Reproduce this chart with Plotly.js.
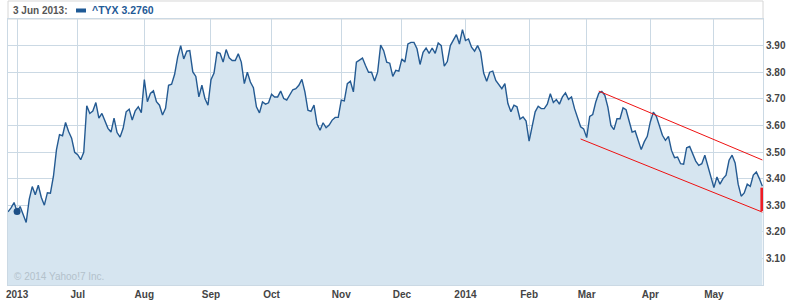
<!DOCTYPE html>
<html>
<head>
<meta charset="utf-8">
<script src="https://cdn.plot.ly/plotly-3.0.1.min.js"></script>
<style>
html,body{margin:0;padding:0;background:#fff;}
#chart{width:796px;height:302px;}
</style>
</head>
<body>
<div id="chart"></div>
<script>
// Trading days shown (category axis: one slot per trading day)
const dates = [
 '2013-05-29','2013-05-30','2013-05-31',
 '2013-06-03','2013-06-04','2013-06-05','2013-06-06','2013-06-07','2013-06-10','2013-06-11','2013-06-12','2013-06-13','2013-06-14','2013-06-17','2013-06-18','2013-06-19','2013-06-20','2013-06-21','2013-06-24','2013-06-25','2013-06-26','2013-06-27','2013-06-28',
 '2013-07-01','2013-07-02','2013-07-03','2013-07-05','2013-07-08','2013-07-09','2013-07-10','2013-07-11','2013-07-12','2013-07-15','2013-07-16','2013-07-17','2013-07-18','2013-07-19','2013-07-22','2013-07-23','2013-07-24','2013-07-25','2013-07-26','2013-07-29','2013-07-30','2013-07-31',
 '2013-08-01','2013-08-02','2013-08-05','2013-08-06','2013-08-07','2013-08-08','2013-08-09','2013-08-12','2013-08-13','2013-08-14','2013-08-15','2013-08-16','2013-08-19','2013-08-20','2013-08-21','2013-08-22','2013-08-23','2013-08-26','2013-08-27','2013-08-28','2013-08-29','2013-08-30',
 '2013-09-03','2013-09-04','2013-09-05','2013-09-06','2013-09-09','2013-09-10','2013-09-11','2013-09-12','2013-09-13','2013-09-16','2013-09-17','2013-09-18','2013-09-19','2013-09-20','2013-09-23','2013-09-24','2013-09-25','2013-09-26','2013-09-27','2013-09-30',
 '2013-10-01','2013-10-02','2013-10-03','2013-10-04','2013-10-07','2013-10-08','2013-10-09','2013-10-10','2013-10-11','2013-10-14','2013-10-15','2013-10-16','2013-10-17','2013-10-18','2013-10-21','2013-10-22','2013-10-23','2013-10-24','2013-10-25','2013-10-28','2013-10-29','2013-10-30','2013-10-31',
 '2013-11-01','2013-11-04','2013-11-05','2013-11-06','2013-11-07','2013-11-08','2013-11-11','2013-11-12','2013-11-13','2013-11-14','2013-11-15','2013-11-18','2013-11-19','2013-11-20','2013-11-21','2013-11-22','2013-11-25','2013-11-26','2013-11-27','2013-11-29',
 '2013-12-02','2013-12-03','2013-12-04','2013-12-05','2013-12-06','2013-12-09','2013-12-10','2013-12-11','2013-12-12','2013-12-13','2013-12-16','2013-12-17','2013-12-18','2013-12-19','2013-12-20','2013-12-23','2013-12-24','2013-12-26','2013-12-27','2013-12-30','2013-12-31',
 '2014-01-02','2014-01-03','2014-01-06','2014-01-07','2014-01-08','2014-01-09','2014-01-10','2014-01-13','2014-01-14','2014-01-15','2014-01-16','2014-01-17','2014-01-21','2014-01-22','2014-01-23','2014-01-24','2014-01-27','2014-01-28','2014-01-29','2014-01-30','2014-01-31',
 '2014-02-03','2014-02-04','2014-02-05','2014-02-06','2014-02-07','2014-02-10','2014-02-11','2014-02-12','2014-02-13','2014-02-14','2014-02-18','2014-02-19','2014-02-20','2014-02-21','2014-02-24','2014-02-25','2014-02-26','2014-02-27','2014-02-28',
 '2014-03-03','2014-03-04','2014-03-05','2014-03-06','2014-03-07','2014-03-10','2014-03-11','2014-03-12','2014-03-13','2014-03-14','2014-03-17','2014-03-18','2014-03-19','2014-03-20','2014-03-21','2014-03-24','2014-03-25','2014-03-26','2014-03-27','2014-03-28','2014-03-31',
 '2014-04-01','2014-04-02','2014-04-03','2014-04-04','2014-04-07','2014-04-08','2014-04-09','2014-04-10','2014-04-11','2014-04-14','2014-04-15','2014-04-16','2014-04-17','2014-04-21','2014-04-22','2014-04-23','2014-04-24','2014-04-25','2014-04-28','2014-04-29','2014-04-30',
 '2014-05-01','2014-05-02','2014-05-05','2014-05-06','2014-05-07','2014-05-08','2014-05-09','2014-05-12','2014-05-13','2014-05-14','2014-05-15','2014-05-16','2014-05-19','2014-05-20','2014-05-21','2014-05-22','2014-05-23'
];

// ^TYX closing values
const tyx = [
 3.275,3.290,3.310,
 3.276,3.295,3.265,3.235,3.322,3.370,3.339,3.375,3.329,3.300,3.347,3.345,3.409,3.509,3.565,3.561,3.611,3.577,3.552,3.499,
 3.490,3.471,3.499,3.674,3.645,3.654,3.686,3.627,3.645,3.614,3.589,3.575,3.627,3.573,3.556,3.589,3.651,3.661,3.620,3.655,3.670,3.648,
 3.772,3.689,3.720,3.730,3.689,3.676,3.639,3.664,3.751,3.755,3.792,3.857,3.900,3.850,3.879,3.881,3.801,3.784,3.707,3.751,3.701,3.676,
 3.772,3.797,3.875,3.871,3.838,3.885,3.854,3.844,3.844,3.869,3.838,3.757,3.800,3.763,3.742,3.670,3.647,3.688,3.680,3.685,
 3.717,3.707,3.707,3.729,3.701,3.695,3.717,3.734,3.738,3.751,3.773,3.726,3.657,3.653,3.676,3.605,3.582,3.610,3.591,3.601,3.620,3.630,3.630,
 3.695,3.692,3.757,3.766,3.726,3.838,3.844,3.853,3.825,3.800,3.800,3.767,3.800,3.902,3.881,3.838,3.834,3.784,3.807,3.804,
 3.850,3.838,3.906,3.912,3.912,3.888,3.829,3.875,3.891,3.871,3.891,3.871,3.910,3.900,3.823,3.840,3.900,3.921,3.941,3.906,3.960,
 3.919,3.925,3.894,3.879,3.900,3.875,3.797,3.766,3.800,3.804,3.769,3.751,3.738,3.757,3.682,3.651,3.676,3.670,3.624,3.632,3.616,
 3.541,3.601,3.651,3.672,3.663,3.663,3.680,3.719,3.686,3.697,3.680,3.707,3.722,3.698,3.707,3.663,3.630,3.595,3.587,
 3.554,3.634,3.641,3.688,3.721,3.728,3.713,3.669,3.600,3.584,3.625,3.625,3.666,3.659,3.619,3.575,3.579,3.544,3.509,3.538,3.559,
 3.613,3.650,3.634,3.594,3.563,3.544,3.559,3.506,3.479,3.481,3.456,3.454,3.516,3.521,3.496,3.466,3.450,3.456,3.488,3.450,3.406,
 3.366,3.406,3.379,3.400,3.413,3.469,3.488,3.459,3.379,3.334,3.346,3.379,3.371,3.413,3.425,3.400,3.371
];

const tickDates  = ['2013-06-03','2013-07-01','2013-08-01','2013-09-03','2013-10-01','2013-11-01','2013-12-02','2014-01-02','2014-02-03','2014-03-03','2014-04-01','2014-05-01'];
const tickLabels = ['2013','Jul','Aug','Sep','Oct','Nov','Dec','2014','Feb','Mar','Apr','May'];
const yTicks = [3.1,3.2,3.3,3.4,3.5,3.6,3.7,3.8,3.9];

// user-drawn channel lines and last-change bar
const upperChannelDates  = ['2014-03-07','2014-05-23'];
const upperChannelValues = [3.729, 3.470];
const lowerChannelDates  = ['2014-02-27','2014-05-23'];
const lowerChannelValues = [3.549, 3.274];
const changeBarDates  = ['2014-05-23','2014-05-23'];
const changeBarValues = [3.366, 3.278];

const hoverDate = '2013-06-03';
const hoverLabel = '3 Jun 2013';
const symbol = '^TYX';

const hoverValue = tyx[dates.indexOf(hoverDate)];

const lineBlue = '#245a92';
const gridCol = '#cbd9e4';
const tickFont = {family: 'Liberation Sans, Arial, sans-serif', size: 10, color: '#444', weight: 'bold'};

const traces = [
  {type:'scatter', mode:'lines', x: dates, y: tyx, fill:'tozeroy', fillcolor:'#d6e5f0',
   line:{color: lineBlue, width:1.4}, hoverinfo:'skip'},
  {type:'scatter', mode:'lines', x: upperChannelDates, y: upperChannelValues, line:{color:'#ee1111', width:1}},
  {type:'scatter', mode:'lines', x: lowerChannelDates, y: lowerChannelValues, line:{color:'#ee1111', width:1}},
  {type:'scatter', mode:'lines', x: changeBarDates, y: changeBarValues, line:{color:'#ee1c24', width:4}},
  {type:'scatter', mode:'markers', x: [hoverDate], y: [hoverValue], marker:{color:'#1d4f86', size:7}}
];

const layout = {
  width: 796, height: 302,
  margin: {l: 8, r: 33, t: 19, b: 17, pad: 0},
  paper_bgcolor: '#ffffff', plot_bgcolor: '#ffffff',
  showlegend: false,
  hovermode: false,
  xaxis: {
    type: 'category', range: [0, 249.2],
    tickmode: 'array', tickvals: tickDates, ticktext: tickLabels,
    showgrid: true, gridcolor: gridCol, gridwidth: 1,
    showline: true, linecolor: gridCol, linewidth: 1, mirror: true,
    ticks: '', zeroline: false, tickfont: tickFont, fixedrange: true
  },
  yaxis: {
    range: [3, 4], side: 'right',
    tickmode: 'array', tickvals: yTicks, ticktext: yTicks.map(v => v.toFixed(2)),
    showgrid: true, gridcolor: gridCol, gridwidth: 1,
    showline: true, linecolor: gridCol, linewidth: 1, mirror: true,
    ticks: '', zeroline: false, tickfont: tickFont, fixedrange: true
  },
  shapes: [
    {type:'rect', xref:'paper', yref:'paper', x0:0, x1:1, y0:1, y1:1.0677,
     line:{color:'#d6d6d6', width:1}, fillcolor:'rgba(0,0,0,0)', layer:'below'},
    {type:'rect', xref:'paper', yref:'paper', x0:0.0901, x1:0.1033, y0:1.0244, y1:1.0395,
     line:{width:0}, fillcolor:'#1f5a96'}
  ],
  annotations: [
    {xref:'paper', yref:'paper', x:0.0046, y:1.033, xanchor:'left', yanchor:'middle', showarrow:false,
     text: hoverLabel + ':', font:{family:'Liberation Sans, Arial, sans-serif', size:10, color:'#555', weight:'bold'}},
    {xref:'paper', yref:'paper', x:0.1085, y:1.033, xanchor:'left', yanchor:'middle', showarrow:false,
     text: symbol + ' ' + hoverValue.toFixed(4), font:{family:'Liberation Sans, Arial, sans-serif', size:10.5, color:'#1f5a96', weight:'bold'}},
    {xref:'paper', yref:'paper', x:0.005, y:0.032, xanchor:'left', yanchor:'middle', showarrow:false,
     text: '© 2014 Yahoo!7 Inc.', font:{family:'Liberation Sans, Arial, sans-serif', size:10, color:'#b3c1cb'}}
  ]
};

Plotly.newPlot('chart', traces, layout, {staticPlot: true, displayModeBar: false});
</script>
</body>
</html>
